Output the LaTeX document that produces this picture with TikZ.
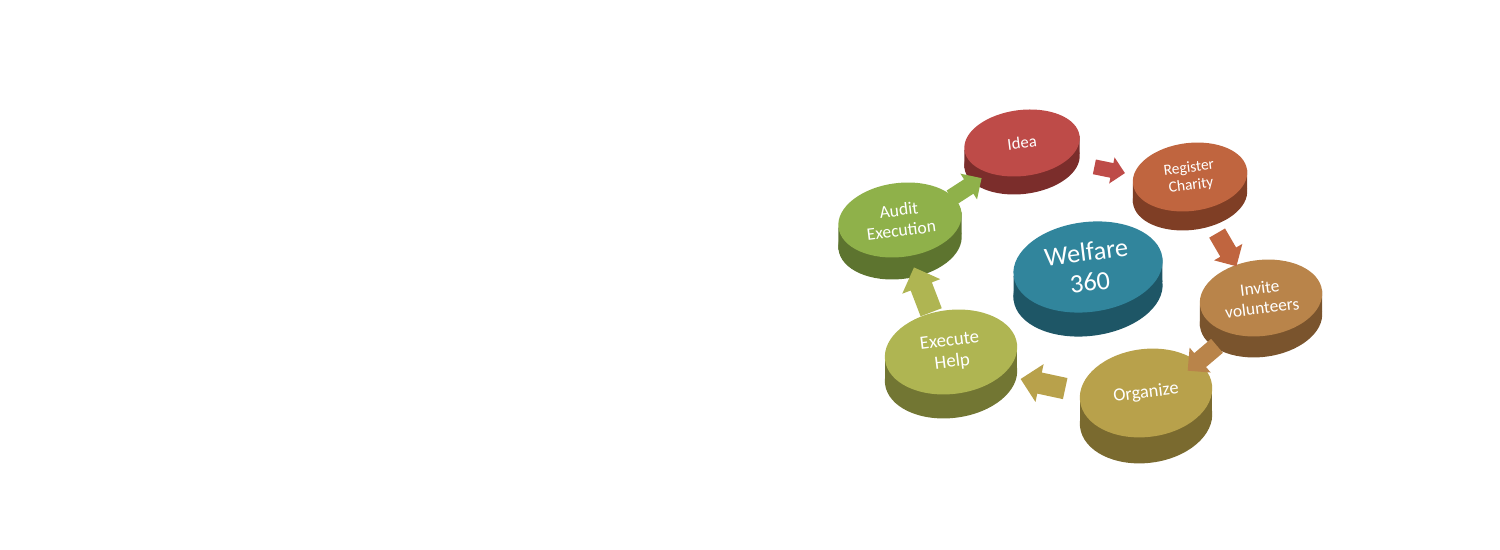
\documentclass[tikz,border=0pt]{standalone}
\usepackage{fontspec}
\setmainfont{Carlito}
\usetikzlibrary{calc,shapes.geometric,shapes.arrows}

\definecolor{ideatop}{HTML}{BE4B48}
\definecolor{ideaside}{HTML}{7B2D2B}
\definecolor{regtop}{HTML}{C0653F}
\definecolor{regside}{HTML}{7F3E25}
\definecolor{invtop}{HTML}{B9844A}
\definecolor{invside}{HTML}{7A542D}
\definecolor{orgtop}{HTML}{B8A14B}
\definecolor{orgside}{HTML}{7A6A2F}
\definecolor{exetop}{HTML}{AFB552}
\definecolor{exeside}{HTML}{727633}
\definecolor{audtop}{HTML}{8FB14A}
\definecolor{audside}{HTML}{5D742F}
\definecolor{weltop}{HTML}{31859C}
\definecolor{welside}{HTML}{1E5666}

\tikzset{
  discface/.style={ellipse, inner sep=0pt, outer sep=0pt, rotate=7},
  disctop/.style={discface, align=center, text=white},
  flow/.style={single arrow, draw=none, inner xsep=0pt, inner ysep=#1*0.0055cm,
    outer sep=0pt, sloped, allow upside down,
    minimum width=#1*0.02cm, minimum height=#1*0.024cm,
    single arrow head extend=#1*0.0045cm},
}

% name, top centre, rx, ry, thickness, top colour, side colour, font size, text
\newcommand{\DiscNode}[9]{%
  \pgfmathsetmacro\discskip{1.15*#8}
  \node[discface, fill=#7, minimum width=#3*0.04cm, minimum height=#4*0.04cm] (#1-s) at ($#2+(0,-#5)$) {};
  \fill[#7] (#1-s.west) -- (#1-s.east) -- ($(#1-s.east)+(0,#5)$) -- ($(#1-s.west)+(0,#5)$) -- cycle;
  \node[discface, minimum width=#3*0.04cm, minimum height=#4*0.04cm] (#1-m) at ($#2+(0,-#5/2)$) {};
  \node[disctop, fill=#6, minimum width=#3*0.04cm, minimum height=#4*0.04cm,
    font=\fontsize{#8}{\discskip}\selectfont] (#1) at #2 {#9};
}

\begin{document}
\begin{tikzpicture}[x=0.02cm, y=0.02cm]
  \useasboundingbox (0,0) rectangle (1500,550);

  \DiscNode{idea}{(1022,407)}{58}{33}{18}{ideatop}{ideaside}{9.5}{Idea}
  \DiscNode{reg}{(1190,373)}{57.5}{34}{19}{regtop}{regside}{8.8}{Register\\Charity}
  \DiscNode{inv}{(1261,252)}{61.5}{38}{21}{invtop}{invside}{9.9}{Invite\\volunteers}
  \DiscNode{org}{(1146,157)}{66.5}{44}{26}{orgtop}{orgside}{10.5}{Organize}
  \DiscNode{exe}{(951,198)}{66.5}{42}{24}{exetop}{exeside}{10.7}{Execute\\Help}
  \DiscNode{aud}{(900,330)}{62}{37}{22}{audtop}{audside}{10}{Audit\\Execution}
  \DiscNode{wel}{(1088,283)}{75}{45}{24}{weltop}{welside}{15}{Welfare\\360}

  % cycle arrows
  \path (idea-m) -- node[flow=26, fill=ideatop] {} (reg-m);
  \path (reg-m) -- node[flow=32, fill=regtop] {} (inv-m);
  \path (inv-m) -- node[flow=32, fill=invtop] {} (org-m);
  \path (org-m) -- node[flow=38, fill=orgtop] {} (exe-m);
  \path (exe-m) -- node[flow=40, fill=exetop] {} (aud-m);
  \path (aud-m) -- node[flow=30, fill=audtop] {} (idea-m);
\end{tikzpicture}
\end{document}
